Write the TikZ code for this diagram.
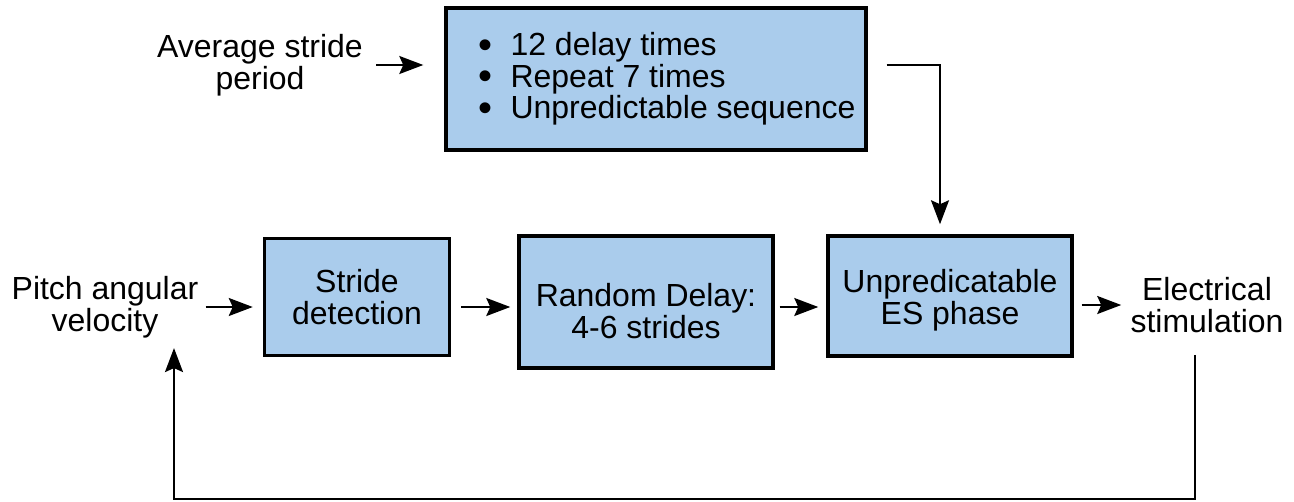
\documentclass[tikz,border=0pt]{standalone}
\usepackage{fontspec}
\setmainfont{Liberation Sans}
\usepackage{xcolor}
\usetikzlibrary{arrows.meta}
\definecolor{stepblue}{RGB}{170,204,236}
\newcommand{\itembullet}{\makebox[1.08cm][l]{\hspace{0.43cm}\raisebox{-0.05cm}[0pt][0pt]{\scalebox{1.25}{\textbullet}}}}

\begin{document}
\begin{tikzpicture}[x=0.02cm, y=-0.02cm,
    every node/.style={font=\fontsize{18.2}{18}\selectfont, align=center, inner sep=0pt},
    block/.style={draw, line width=2pt, fill=stepblue},
    flow/.style={-{Stealth[length=0.48cm, width=0.36cm, inset=0.08cm]}, line width=1.2pt}]
        \useasboundingbox (0,0) rectangle (1294,501);

        % labels outside the boxes
        \node (avg) at (260,65) {Average stride\\period};
        \node (pitch) at (105,307) {Pitch angular\\velocity};
        \node (elec) at (1207,305) {Electrical\\stimulation};

        % blocks
        \node[block, minimum width=8.4cm, minimum height=2.84cm, align=left] (list) at (656,79)
            {\itembullet 12 delay times\\
             \itembullet Repeat 7 times\\
             \itembullet Unpredictable sequence};
        \node[block, minimum width=3.7cm, minimum height=2.34cm] (stride) at (357,297) {Stride\\detection};
        \node[block, minimum width=5.08cm, minimum height=2.64cm] (delay) at (646,302) {};
        \node (delaytext) at (646,311) {Random Delay:\\4-6 strides};
        \node[block, minimum width=4.88cm, minimum height=2.4cm] (phase) at (950,296) {};
        \node (phasetext) at (950,300) {Unpredicatable\\ES phase};

        % feedback corners
        \coordinate (fbr) at (1195,499);
        \coordinate (fbl) at (174,499);

        \draw[flow, shorten <=0.26cm, shorten >=0.42cm] (avg.east) -- (avg.east -| list.west);
        \draw[flow, shorten <=0.38cm, shorten >=0.2cm] (list.east |- avg) -| ([xshift=-0.2cm]phase.north);
        \draw[flow, shorten <=0.14cm, shorten >=0.2cm] (pitch.east) -- (pitch.east -| stride.west);
        \draw[flow, shorten <=0.2cm, shorten >=0.14cm] ([yshift=-0.1cm]delay.west -| stride.east) -- ([yshift=-0.1cm]delay.west);
        \draw[flow, shorten <=0.1cm, shorten >=0.16cm] ([yshift=-0.1cm]delay.east) -- ([yshift=-0.1cm]delay.east -| phase.west);
        \draw[flow, shorten <=0.16cm, shorten >=0.18cm] (elec.west -| phase.east) -- (elec.west);
        \draw[flow, shorten <=0.44cm, shorten >=0.2cm] (fbr |- elec.south) -- (fbr) -- (fbl) -- (fbl |- pitch.south);
    \end{tikzpicture}
\end{document}
